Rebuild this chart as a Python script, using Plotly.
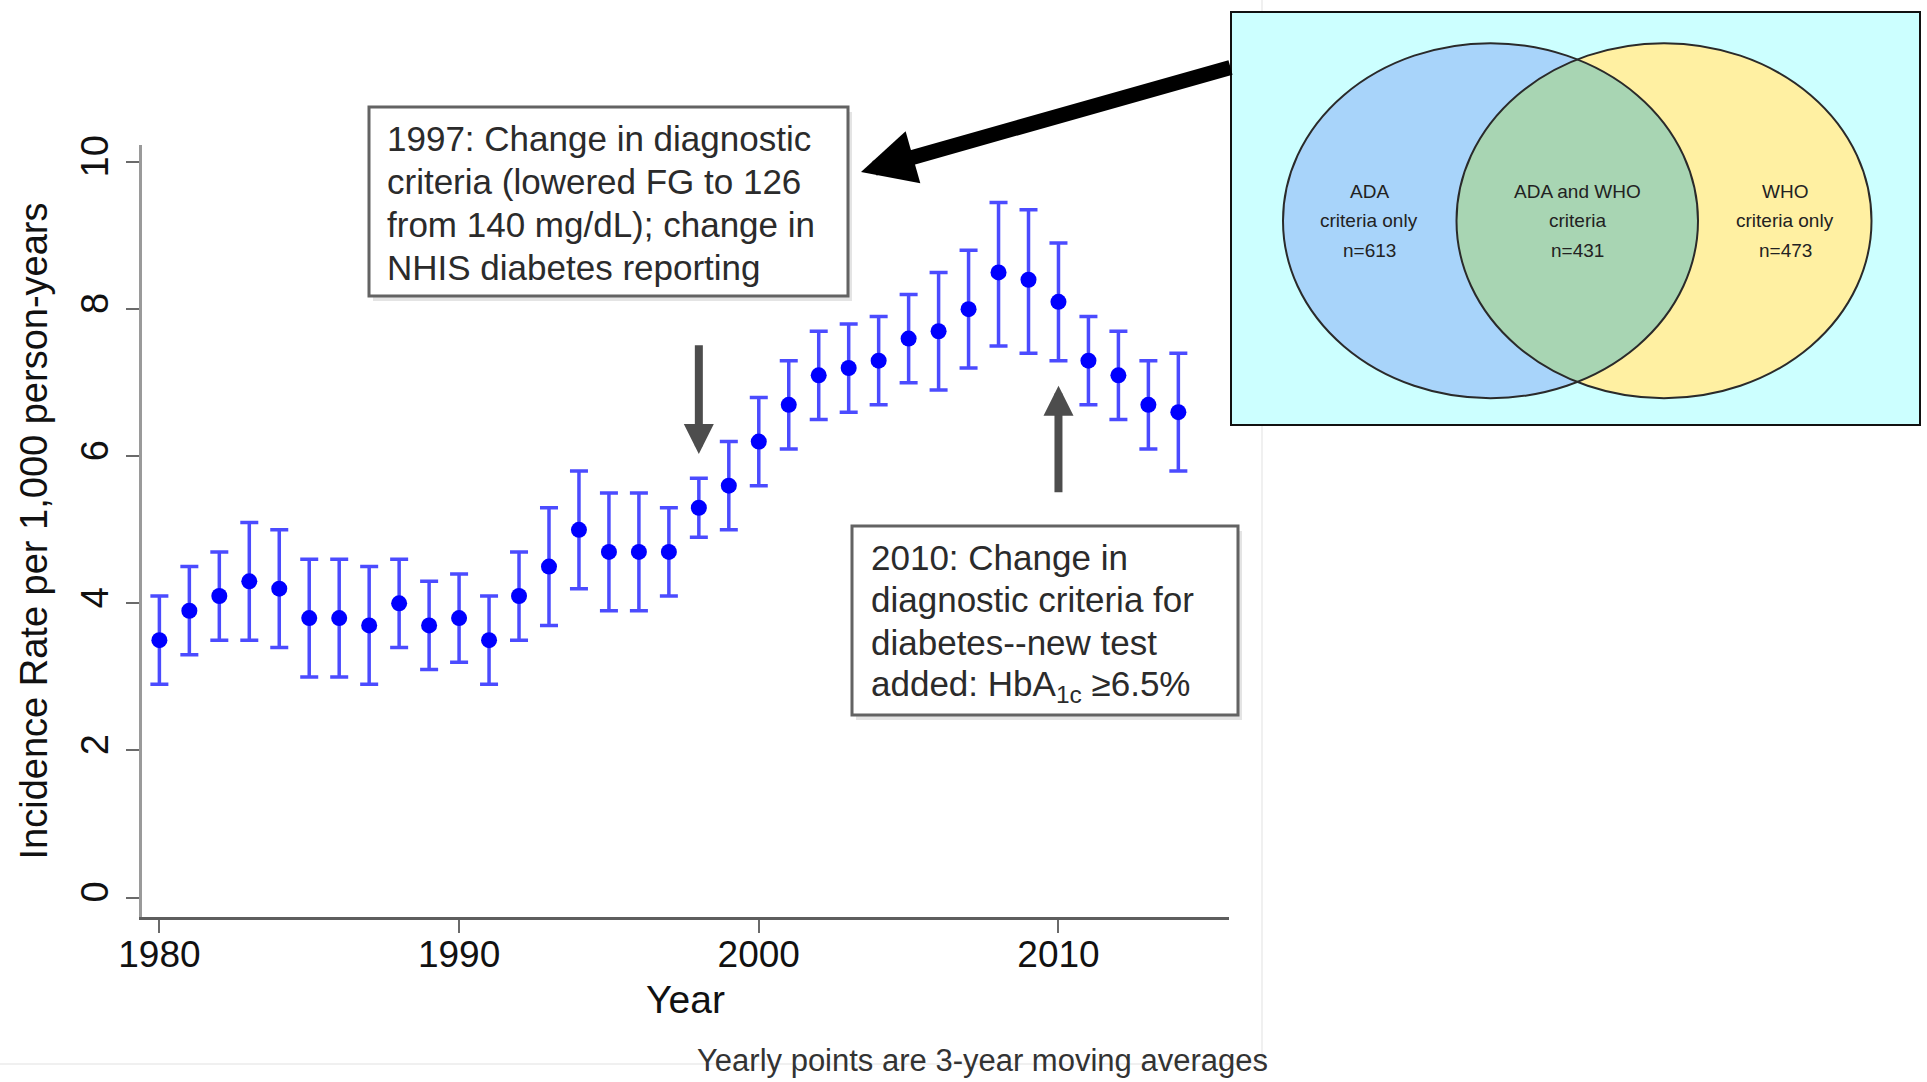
import numpy as np
import plotly.graph_objects as go

W, H = 1927, 1082

# ---------------- data ----------------
years = list(range(1980, 2015))
rate = [3.5, 3.9, 4.1, 4.3, 4.2, 3.8, 3.8, 3.7, 4.0, 3.7, 3.8, 3.5, 4.1, 4.5, 5.0, 4.7, 4.7, 4.7,
        5.3, 5.6, 6.2, 6.7, 7.1, 7.2, 7.3, 7.6, 7.7, 8.0, 8.5, 8.4, 8.1, 7.3, 7.1, 6.7, 6.6]
upper = [4.1, 4.5, 4.7, 5.1, 5.0, 4.6, 4.6, 4.5, 4.6, 4.3, 4.4, 4.1, 4.7, 5.3, 5.8, 5.5, 5.5, 5.3,
         5.7, 6.2, 6.8, 7.3, 7.7, 7.8, 7.9, 8.2, 8.5, 8.8, 9.45, 9.35, 8.9, 7.9, 7.7, 7.3, 7.4]
lower = [2.9, 3.3, 3.5, 3.5, 3.4, 3.0, 3.0, 2.9, 3.4, 3.1, 3.2, 2.9, 3.5, 3.7, 4.2, 3.9, 3.9, 4.1,
         4.9, 5.0, 5.6, 6.1, 6.5, 6.6, 6.7, 7.0, 6.9, 7.2, 7.5, 7.4, 7.3, 6.7, 6.5, 6.1, 5.8]

x_ticks = [1980, 1990, 2000, 2010]
y_ticks = [0, 2, 4, 6, 8, 10]

note1_lines = ["1997: Change in diagnostic", "criteria (lowered FG to 126",
               "from 140 mg/dL); change in", "NHIS diabetes reporting"]
note2_lines = ["2010: Change in", "diagnostic criteria for", "diabetes--new test",
               "added: HbA<sub>1c</sub> ≥6.5%"]
event_years = [1998, 2010]

venn_names = [["ADA", "criteria only"], ["ADA and WHO", "criteria"], ["WHO", "criteria only"]]
venn_counts = [613, 431, 473]

footnote = "Yearly points are 3-year moving averages"

# ---------------- helpers (pixel -> paper) ----------------
def fx(x):
    return x / W

def fy(y):
    return 1 - y / H

FONT = "Liberation Sans, Arial, Helvetica, sans-serif"

# plot area in pixels
PL, PR, PT, PB = 142, 1229, 145, 917
X_RANGE = [1979.42, 2015.69]
Y_RANGE = [-0.264, 10.232]

fig = go.Figure()

fig.add_trace(go.Scatter(
    x=years, y=rate, mode="markers",
    marker=dict(color="#0000ff", size=16),
    error_y=dict(type="data", symmetric=False,
                 array=[u - r for u, r in zip(upper, rate)],
                 arrayminus=[r - l for r, l in zip(rate, lower)],
                 color="rgba(50,50,255,0.88)", thickness=3.5, width=9),
    showlegend=False, hoverinfo="x+y",
))

shapes = []
annotations = []

# faint original image border
shapes.append(dict(type="line", xref="paper", yref="paper", x0=fx(1262), x1=fx(1262),
                   y0=fy(0), y1=fy(1064), line=dict(color="#f0f0f0", width=2)))
shapes.append(dict(type="line", xref="paper", yref="paper", x0=fx(0), x1=fx(1262),
                   y0=fy(1064), y1=fy(1064), line=dict(color="#f0f0f0", width=2)))

# note boxes
def note_box(x0, y0, x1, y1, lines, tx, ty0, dy):
    shapes.append(dict(type="rect", xref="paper", yref="paper",
                       x0=fx(x0 + 4), x1=fx(x1 + 4), y0=fy(y0 + 5), y1=fy(y1 + 5),
                       fillcolor="#e4e4e4", line=dict(width=0)))
    shapes.append(dict(type="rect", xref="paper", yref="paper",
                       x0=fx(x0), x1=fx(x1), y0=fy(y0), y1=fy(y1),
                       fillcolor="white", line=dict(color="#636363", width=3)))
    for i, t in enumerate(lines):
        annotations.append(dict(xref="paper", yref="paper", x=fx(tx), y=fy(ty0 + i * dy),
                                xanchor="left", yanchor="middle", showarrow=False, text=t,
                                font=dict(family=FONT, size=35, color="#2b2b2b")))

note_box(369, 107, 848, 296, note1_lines, 385, 139, 42.7)
note_box(852, 526, 1238, 715, note2_lines, 869, 557, 42.9)

# gray event arrows (data coords)
arrow_spec = [(6.03, 7.53), (6.96, 5.49)]  # (tip, tail) in rate units
for yr, (tip, tail) in zip(event_years, arrow_spec):
    annotations.append(dict(x=yr, y=tip, ax=yr, ay=tail, xref="x", yref="y",
                            axref="x", ayref="y", text="", showarrow=True,
                            arrowhead=2, arrowwidth=8, arrowsize=0.75,
                            arrowcolor="#4d4d4d"))

# big black arrow from Venn box
annotations.append(dict(xref="paper", yref="paper", x=fx(861), y=fy(172),
                        ax=1232 - 861, ay=67 - 172, axref="pixel", ayref="pixel",
                        text="", showarrow=True, arrowhead=2, arrowwidth=15,
                        arrowsize=0.72, arrowcolor="#000000"))

# Venn diagram
VX0, VY0, VX1, VY1 = 1231, 12, 1920, 425
shapes.append(dict(type="rect", xref="paper", yref="paper", x0=fx(VX0), x1=fx(VX1),
                   y0=fy(VY0), y1=fy(VY1), fillcolor="#ccffff",
                   line=dict(color="#111111", width=2)))
cy, rx, ry = 220.7, 207.5, 177.5
cxs = [1490.5, 1664.0]
fills = ["#a8d4fa", "#fff0a2"]
for cx, fc in zip(cxs, fills):
    shapes.append(dict(type="circle", xref="paper", yref="paper",
                       x0=fx(cx - rx), x1=fx(cx + rx), y0=fy(cy - ry), y1=fy(cy + ry),
                       fillcolor=fc, line=dict(width=0)))
# lens (intersection)
xm = (cxs[0] + cxs[1]) / 2
phi = np.arccos((xm - cxs[0]) / rx)
t = np.linspace(-phi, phi, 80)
arc1_x = cxs[0] + rx * np.cos(t)
arc1_y = cy + ry * np.sin(t)
t2 = np.linspace(np.pi - phi, np.pi + phi, 80)
arc2_x = cxs[1] + rx * np.cos(t2)
arc2_y = cy + ry * np.sin(t2)
pts = list(zip(arc1_x, arc1_y)) + list(zip(arc2_x, arc2_y))
path = "M " + " L ".join(f"{fx(a):.6f},{fy(b):.6f}" for a, b in pts) + " Z"
shapes.append(dict(type="path", xref="paper", yref="paper", path=path,
                   fillcolor="#a8d5b3", line=dict(width=0)))
for cx in cxs:
    shapes.append(dict(type="circle", xref="paper", yref="paper",
                       x0=fx(cx - rx), x1=fx(cx + rx), y0=fy(cy - ry), y1=fy(cy + ry),
                       fillcolor="rgba(0,0,0,0)", line=dict(color="#2a2a2a", width=2)))

venn_x = [1369, 1577, 1785]
for vx, names, n in zip(venn_x, venn_names, venn_counts):
    lines = names + [f"n={n}"]
    for i, tline in enumerate(lines):
        annotations.append(dict(xref="paper", yref="paper", x=fx(vx), y=fy(191 + i * 29.5),
                                xanchor="center", yanchor="middle", showarrow=False,
                                text=tline, font=dict(family=FONT, size=19, color="#222222")))

# footnote
annotations.append(dict(xref="paper", yref="paper", x=fx(1270), y=fy(1060),
                        xanchor="right", yanchor="middle", showarrow=False, text=footnote,
                        font=dict(family=FONT, size=31, color="#333333")))

fig.update_layout(
    width=W, height=H,
    margin=dict(l=0, r=0, t=0, b=0),
    paper_bgcolor="white", plot_bgcolor="white",
    font=dict(family=FONT, color="#111111"),
    shapes=shapes, annotations=annotations,
    xaxis=dict(domain=[fx(PL), fx(PR)], range=X_RANGE, tickvals=x_ticks,
               ticktext=[str(v) for v in x_ticks], showgrid=False, zeroline=False,
               showline=True, linecolor="#5e5e5e", linewidth=3,
               ticks="outside", ticklen=13, tickwidth=2, tickcolor="#6a6a6a",
               tickfont=dict(size=37, color="#111111"), automargin=False,
               ticklabelstandoff=-10,
               title=dict(text="Year", font=dict(size=39, color="#111111"), standoff=12)),
    yaxis=dict(domain=[fy(PB), fy(PT)], range=Y_RANGE, tickvals=y_ticks,
               showgrid=False, zeroline=False, showline=True, linecolor="#9a9a9a",
               linewidth=3, ticks="outside", ticklen=13, tickwidth=2, tickcolor="#6a6a6a",
               tickangle=-90, tickfont=dict(size=38, color="#111111"), automargin=False,
               ticklabelstandoff=3,
               title=dict(text="Incidence Rate per 1,000 person-years",
                          font=dict(size=38, color="#111111"), standoff=15)),
)

fig.write_html("out.html", config={"displayModeBar": False},
               post_script="document.body.style.margin='0';")
